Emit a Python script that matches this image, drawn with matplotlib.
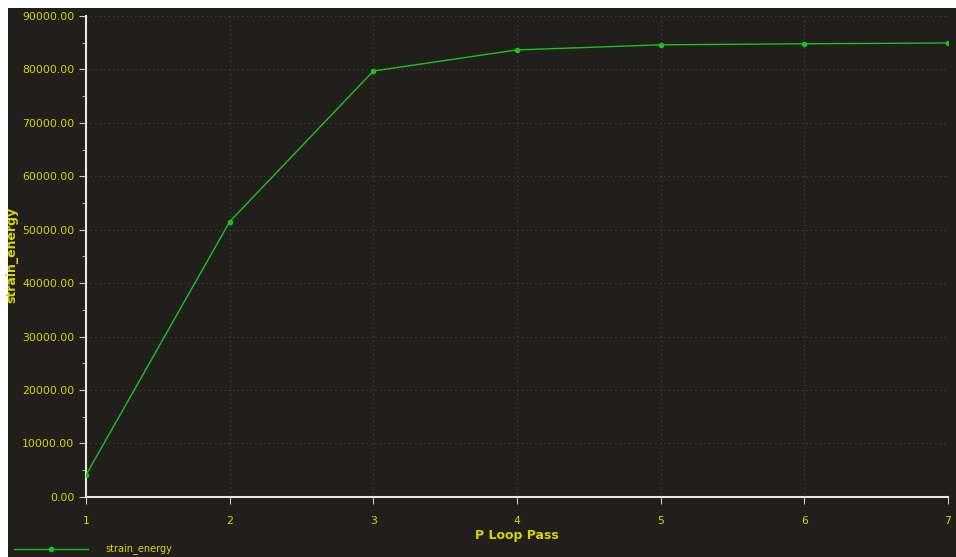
import matplotlib
matplotlib.use('Agg')
import matplotlib.pyplot as plt
from matplotlib.patches import Rectangle
from matplotlib.lines import Line2D
from matplotlib.ticker import MultipleLocator, FormatStrFormatter

passes = [1, 2, 3, 4, 5, 6, 7]
strain_energy = [4100, 51500, 79700, 83650, 84600, 84800, 84950]

bg = '#201f1b'
yellow = '#d8d40a'
green = '#1cc21c'

fig = plt.figure(figsize=(9.56, 5.57), dpi=100, facecolor='white')
fig.patches.append(Rectangle((8 / 956, 0), 1, 1 - 8 / 557, transform=fig.transFigure,
                             facecolor=bg, edgecolor='none', zorder=-10))

ax = fig.add_axes([0.090, 0.108, 0.9016, 0.8633])
ax.set_facecolor(bg)
ax.plot(passes, strain_energy, color=green, lw=1.0, marker='o', ms=3, zorder=3)

ax.set_xlim(1, 7)
ax.set_ylim(0, 90000)
ax.xaxis.set_major_locator(MultipleLocator(1))
ax.yaxis.set_major_locator(MultipleLocator(10000))
ax.yaxis.set_minor_locator(MultipleLocator(5000))
ax.yaxis.set_major_formatter(FormatStrFormatter('%.2f'))

for s in ['top', 'right']:
    ax.spines[s].set_visible(False)
for s in ['left', 'bottom']:
    ax.spines[s].set_color('#e8e8e8')
    ax.spines[s].set_linewidth(1.5)

ax.tick_params(axis='both', which='both', colors='#cccccc', labelcolor=yellow,
               labelsize=7.8, direction='out')
ax.tick_params(axis='both', which='major', length=5)
ax.tick_params(axis='x', pad=9)
ax.tick_params(axis='y', which='minor', length=3)
ax.grid(True, which='major', color='#45443e', linestyle=(0, (1, 3)), lw=0.8)

ax.set_xlabel('P Loop Pass', color=yellow, fontsize=9, fontweight='bold', labelpad=2)
ax.set_ylabel('strain_energy', color=yellow, fontsize=9, fontweight='semibold')
ax.yaxis.set_label_coords(-0.079, 0.503)

leg_line = Line2D([14 / 956, 88 / 956], [1 - 549 / 557] * 2, transform=fig.transFigure,
                  color=green, lw=1.0)
fig.lines.append(leg_line)
fig.lines.append(Line2D([51 / 956], [1 - 549 / 557], transform=fig.transFigure,
                        color=green, marker='o', ms=3, lw=0))
fig.text(105 / 956, 1 - 549 / 557, 'strain_energy', color=yellow, fontsize=7, va='center')

fig.savefig('out.png', dpi=100, facecolor=fig.get_facecolor())
